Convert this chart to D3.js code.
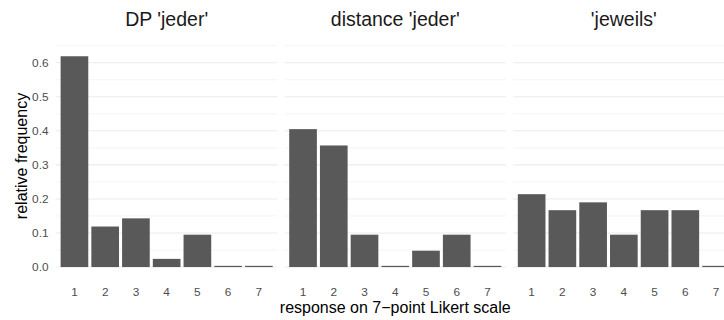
<!DOCTYPE html>
<html>
<head>
<meta charset="utf-8">
<script src="https://cdn.jsdelivr.net/npm/d3@7"></script>
<style>
  body { margin: 0; background: #fff; }
  svg { display: block; font-family: "Liberation Sans", Arial, sans-serif; }
</style>
</head>
<body>
<div id="chart"></div>
<script>
// data (relative frequencies, n = 42 per panel)
var panels = ["DP 'jeder'", "distance 'jeder'", "'jeweils'"];
var responses = ["1", "2", "3", "4", "5", "6", "7"];
var dpJeder = [0.619, 0.119, 0.143, 0.024, 0.095, 0, 0];
var distanceJeder = [0.405, 0.357, 0.095, 0, 0.048, 0.095, 0];
var jeweils = [0.214, 0.167, 0.190, 0.095, 0.167, 0.167, 0];
var yTicks = [0, 0.1, 0.2, 0.3, 0.4, 0.5, 0.6];

var series = [dpJeder, distanceJeder, jeweils];

var width = 724, height = 320;
var panelW = 221.3, gap = 7.3, marginLeft = 56;
var plotTop = 45.7, plotBottom = 277.6;

var svg = d3.select("#chart").append("svg")
    .attr("width", width)
    .attr("height", height);

var y = d3.scaleLinear()
    .domain([-0.031, 0.65])
    .range([plotBottom, plotTop]);

var minor = d3.range(0.05, 0.66, 0.1);

panels.forEach(function(name, i) {
  var x0 = marginLeft + i * (panelW + gap);
  var x = d3.scaleBand()
      .domain(responses)
      .range([x0, x0 + panelW])
      .paddingInner(0.1)
      .paddingOuter(0.15);

  var g = svg.append("g");

  // minor grid
  g.selectAll(".minor").data(minor).enter().append("line")
      .attr("x1", x0).attr("x2", x0 + panelW)
      .attr("y1", function(d) { return y(d); })
      .attr("y2", function(d) { return y(d); })
      .style("stroke", "#ebebeb")
      .style("stroke-width", 0.55);

  // major grid
  g.selectAll(".major").data(yTicks).enter().append("line")
      .attr("x1", x0).attr("x2", x0 + panelW)
      .attr("y1", function(d) { return y(d); })
      .attr("y2", function(d) { return y(d); })
      .style("stroke", "#ebebeb")
      .style("stroke-width", 1.07);

  // bars
  g.selectAll("rect").data(series[i]).enter().append("rect")
      .attr("x", function(d, j) { return x(responses[j]); })
      .attr("width", x.bandwidth())
      .attr("y", function(d) { return Math.min(y(d), y(0) - 1.2); })
      .attr("height", function(d) { return Math.max(y(0) - y(d), 1.2); })
      .style("fill", "#595959");

  // x tick labels
  g.selectAll(".xt").data(responses).enter().append("text")
      .attr("x", function(d) { return x(d) + x.bandwidth() / 2; })
      .attr("y", 295.5)
      .attr("text-anchor", "middle")
      .style("font-size", "11.8px")
      .style("fill", "#4d4d4d")
      .text(function(d) { return d; });

  // strip title
  svg.append("text")
      .attr("x", x0 + panelW / 2)
      .attr("y", 26)
      .attr("text-anchor", "middle")
      .style("font-size", "19.5px")
      .style("fill", "#1a1a1a")
      .text(name);
});

// y tick labels
svg.selectAll(".yt").data(yTicks).enter().append("text")
    .attr("x", 48.5)
    .attr("y", function(d) { return y(d); })
    .attr("dy", "0.35em")
    .attr("text-anchor", "end")
    .style("font-size", "11.8px")
    .style("fill", "#4d4d4d")
    .text(function(d) { return d3.format(".1f")(d); });

// axis titles
svg.append("text")
    .attr("x", marginLeft + (3 * panelW + 2 * gap) / 2)
    .attr("y", 313)
    .attr("text-anchor", "middle")
    .style("font-size", "16px")
    .style("fill", "#000")
    .text("response on 7\u2212point Likert scale");

svg.append("text")
    .attr("transform", "translate(26.5,156) rotate(-90)")
    .attr("text-anchor", "middle")
    .style("font-size", "16px")
    .style("fill", "#000")
    .text("relative frequency");
</script>
</body>
</html>
